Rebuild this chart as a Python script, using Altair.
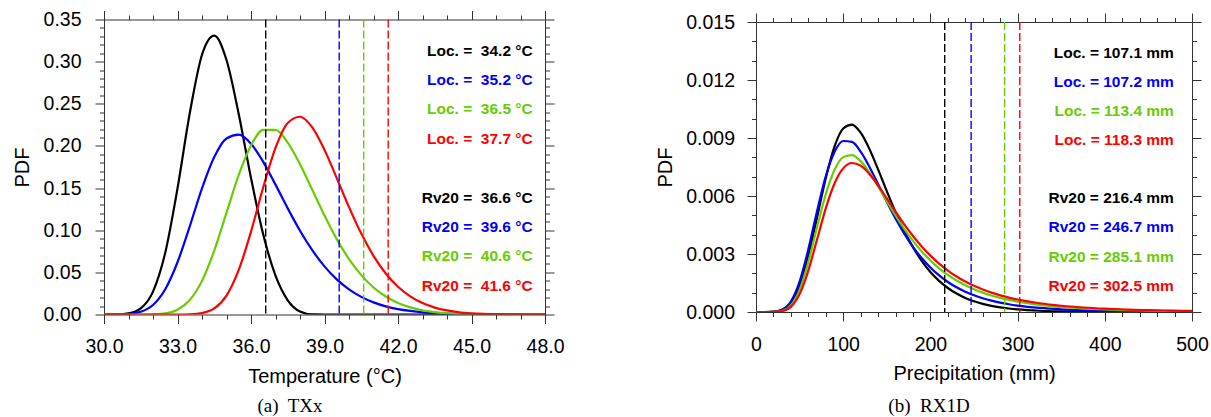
import altair as alt
import pandas as pd

# ------------------------------------------------------------------ data
series_names = ["black", "blue", "green", "red"]
series_colors = ["#000000", "#0000FF", "#66CD00", "#FF0000"]

# (a) TXx
temp_x = [30.0, 30.5, 31.0, 31.5, 32.0, 32.5, 33.0, 33.5, 34.0, 34.5, 35.0, 35.5,
          36.0, 36.5, 37.0, 37.5, 38.0, 38.5, 39.0, 39.5, 40.0, 40.5, 41.0, 41.5,
          42.0, 42.5, 43.0, 43.5, 44.0, 44.5, 45.0, 45.5, 46.0, 46.5, 47.0, 47.5, 48.0]
txx_black = [0.0, 0.0002, 0.0014, 0.0073, 0.0272, 0.0734, 0.1496, 0.2387, 0.3082, 0.3309,
             0.3019, 0.2376, 0.1620, 0.0949, 0.0461, 0.0169, 0.0036, 0.0001, 0.0, 0.0,
             0.0, 0.0, 0.0, 0.0, 0.0, 0.0, 0.0, 0.0, 0.0, 0.0, 0.0, 0.0, 0.0, 0.0, 0.0, 0.0, 0.0]
txx_blue = [0.0, 0.0001, 0.0006, 0.0032, 0.0113, 0.0300, 0.0620, 0.1046, 0.1496, 0.1868,
            0.2088, 0.2133, 0.2025, 0.1811, 0.1541, 0.1259, 0.0994, 0.0763, 0.0571, 0.0417,
            0.0298, 0.0209, 0.0144, 0.0097, 0.0064, 0.0042, 0.0026, 0.0016, 0.0010, 0.0006,
            0.0003, 0.0002, 0.0001, 0.0, 0.0, 0.0, 0.0]
txx_green = [0.0, 0.0, 0.0, 0.0, 0.0003, 0.0014, 0.0057, 0.0171, 0.0399, 0.0758,
             0.1207, 0.1656, 0.2006, 0.2190, 0.2191, 0.2039, 0.1783, 0.1480, 0.1174, 0.0894,
             0.0657, 0.0467, 0.0320, 0.0213, 0.0136, 0.0084, 0.0049, 0.0028, 0.0014, 0.0007,
             0.0003, 0.0001, 0.0, 0.0, 0.0, 0.0, 0.0]
txx_red = [0.0, 0.0, 0.0, 0.0, 0.0, 0.0, 0.0, 0.0003, 0.0017, 0.0072,
           0.0225, 0.0529, 0.0984, 0.1510, 0.1977, 0.2272, 0.2346, 0.2219, 0.1953, 0.1618,
           0.1274, 0.0960, 0.0696, 0.0487, 0.0329, 0.0215, 0.0135, 0.0082, 0.0048, 0.0026,
           0.0014, 0.0007, 0.0003, 0.0001, 0.0, 0.0, 0.0]
txx_loc = [34.2, 35.2, 36.5, 37.7]
txx_rv20 = [36.6, 39.6, 40.6, 41.6]
txx_xticks = [30, 31, 32, 33, 34, 35, 36, 37, 38, 39, 40, 41, 42, 43, 44, 45, 46, 47, 48]
txx_yticks = [0.00, 0.01, 0.02, 0.03, 0.04, 0.05, 0.06, 0.07, 0.08, 0.09, 0.10, 0.11,
              0.12, 0.13, 0.14, 0.15, 0.16, 0.17, 0.18, 0.19, 0.20, 0.21, 0.22, 0.23,
              0.24, 0.25, 0.26, 0.27, 0.28, 0.29, 0.30, 0.31, 0.32, 0.33, 0.34, 0.35]

# (b) RX1D
precip_x = [0, 10, 20, 30, 40, 50, 60, 70, 80, 90, 100, 110, 120, 130, 140, 150, 160,
            170, 180, 190, 200, 210, 220, 230, 240, 250, 260, 270, 280, 290, 300,
            325, 350, 375, 400, 425, 450, 475, 500]
rx1d_black = [0.0, 0.0, 0.000019, 0.000120, 0.000488, 0.001371, 0.002895, 0.004886,
              0.006922, 0.008551, 0.009492, 0.009694, 0.009276, 0.008437, 0.007375,
              0.006250, 0.005169, 0.004195, 0.003353, 0.002649, 0.002072, 0.001609,
              0.001242, 0.000953, 0.000729, 0.000555, 0.000421, 0.000319, 0.000241,
              0.000181, 0.000136, 0.000066, 0.000032, 0.000015, 0.000007, 0.000003,
              0.000001, 0.000001, 0.0]
rx1d_blue = [0.0, 0.0, 0.000013, 0.000118, 0.000544, 0.001572, 0.003239, 0.005215,
             0.007018, 0.008273, 0.008845, 0.008797, 0.008295, 0.007518, 0.006617,
             0.005700, 0.004835, 0.004053, 0.003372, 0.002790, 0.002299, 0.001890,
             0.001553, 0.001276, 0.001048, 0.000862, 0.000710, 0.000585, 0.000484,
             0.000400, 0.000332, 0.000210, 0.000134, 0.000087, 0.000057, 0.000038,
             0.000026, 0.000017, 0.000012]
rx1d_green = [0.0, 0.0, 0.000004, 0.000055, 0.000339, 0.001148, 0.002584, 0.004385,
              0.006093, 0.007349, 0.008011, 0.008117, 0.007803, 0.007220, 0.006499,
              0.005735, 0.004990, 0.004298, 0.003678, 0.003133, 0.002662, 0.002258,
              0.001916, 0.001626, 0.001381, 0.001175, 0.001001, 0.000855, 0.000731,
              0.000627, 0.000539, 0.000373, 0.000261, 0.000186, 0.000134, 0.000098,
              0.000073, 0.000054, 0.000041]
rx1d_red = [0.0, 0.0, 0.000003, 0.000043, 0.000266, 0.000924, 0.002144, 0.003748,
            0.005359, 0.006645, 0.007429, 0.007707, 0.007569, 0.007143, 0.006547,
            0.005874, 0.005190, 0.004536, 0.003933, 0.003392, 0.002915, 0.002501,
            0.002144, 0.001837, 0.001575, 0.001352, 0.001162, 0.001000, 0.000862,
            0.000745, 0.000645, 0.000454, 0.000324, 0.000234, 0.000171, 0.000127,
            0.000096, 0.000072, 0.000055]
rx1d_loc = [107.1, 107.2, 113.4, 118.3]
rx1d_rv20 = [216.4, 246.7, 285.1, 302.5]
rx1d_xticks = [0, 20, 40, 60, 80, 100, 120, 140, 160, 180, 200, 220, 240, 260, 280, 300,
               320, 340, 360, 380, 400, 420, 440, 460, 480, 500]
rx1d_yticks = [0.000, 0.001, 0.002, 0.003, 0.004, 0.005, 0.006, 0.007, 0.008,
               0.009, 0.010, 0.011, 0.012, 0.013, 0.014, 0.015]

# ------------------------------------------------------------------ style
FONT = "Liberation Sans"
SERIF = "Liberation Serif"
FRAME = "#333333"
NBSP = "\u00a0"
LABEL_SIZE = 19.5
TITLE_SIZE = 20
NOTE_SIZE = 15.5


def major_test(step):
    return f"abs(datum.value/{step} - round(datum.value/{step})) < 1e-6"


def tick_size(step):
    return {"condition": {"test": major_test(step), "value": 9}, "value": 4.5}


def panel(xs, curves, rv, labels, xdom, ydom, xticks, xstep, yticks, ystep,
          xfmt, yfmt, xtitle, w, h, xlab_pad, ylab_pad, xtitle_y, ytitle_x,
          text_x, text_y0, text_dy, caption, cap_x, cap_y):
    xscale = alt.Scale(domain=xdom, nice=False, zero=False)
    yscale = alt.Scale(domain=ydom, nice=False, zero=False)

    common = dict(domainColor=FRAME, domainWidth=1, tickColor=FRAME, tickWidth=1,
                  grid=False, labelFlush=False, labelOverlap=False)
    ax_bottom = alt.Axis(orient="bottom", values=xticks, tickSize=tick_size(xstep),
                         labelExpr=f"{major_test(xstep)} ? format(datum.value, '{xfmt}') : ''",
                         labelFont=FONT, labelFontSize=LABEL_SIZE, labelColor="black",
                         labelPadding=xlab_pad, title=xtitle, titleFont=FONT,
                         titleFontSize=TITLE_SIZE, titleFontWeight="normal",
                         titleColor="black", titleY=xtitle_y, titleBaseline="middle",
                         **common)
    ax_left = alt.Axis(orient="left", values=yticks, tickSize=tick_size(ystep),
                       labelExpr=f"{major_test(ystep)} ? format(datum.value, '{yfmt}') : ''",
                       labelFont=FONT, labelFontSize=LABEL_SIZE, labelColor="black",
                       labelPadding=ylab_pad, title="PDF", titleFont=FONT,
                       titleFontSize=TITLE_SIZE, titleFontWeight="normal",
                       titleColor="black", titleX=ytitle_x, titleY=h / 2, titleAngle=270,
                       titleBaseline="middle", titleAlign="center", **common)
    ax_top = alt.Axis(orient="top", values=xticks, tickSize=tick_size(xstep),
                      labels=False, title=None, **common)
    ax_right = alt.Axis(orient="right", values=yticks, tickSize=tick_size(ystep),
                        labels=False, title=None, **common)

    layers = []
    for i, (vals, col) in enumerate(zip(curves, series_colors)):
        df = pd.DataFrame({"x": xs, "pdf": vals})
        if i == 0:
            xa, ya = ax_bottom, ax_left
        elif i == 1:
            xa, ya = ax_top, ax_right
        else:
            xa, ya = None, None
        layers.append(
            alt.Chart(df).mark_line(color=col, strokeWidth=2.2, interpolate="monotone",
                                    clip=True)
            .encode(x=alt.X("x:Q", scale=xscale, axis=xa),
                    y=alt.Y("pdf:Q", scale=yscale, axis=ya))
        )

    df_rv = pd.DataFrame({"rv": rv, "series": series_names})
    layers.append(
        alt.Chart(df_rv).mark_rule(strokeDash=[8, 3], strokeWidth=1.4)
        .encode(x=alt.X("rv:Q", scale=xscale, axis=None),
                color=alt.Color("series:N",
                                scale=alt.Scale(domain=series_names, range=series_colors),
                                legend=None))
    )

    rows = [0, 1, 2, 3, 5, 6, 7, 8]
    for r, (lab, col) in zip(rows, labels):
        layers.append(
            alt.Chart(pd.DataFrame({"t": [lab]}))
            .mark_text(align="right", baseline="middle", font=FONT, fontSize=NOTE_SIZE,
                       fontWeight="bold", color=col)
            .encode(x=alt.value(text_x), y=alt.value(text_y0 + r * text_dy), text="t:N")
        )

    layers.append(
        alt.Chart(pd.DataFrame({"t": [caption]}))
        .mark_text(align="center", baseline="middle", font=SERIF, fontSize=19,
                   color="black")
        .encode(x=alt.value(cap_x), y=alt.value(cap_y), text="t:N")
    )

    return (alt.layer(*layers)
            .resolve_axis(x="independent", y="independent")
            .properties(width=w, height=h))


txx_labels = ([(f"Loc. ={NBSP} {v:.1f} °C", c) for v, c in zip(txx_loc, series_colors)] +
              [(f"Rv20 ={NBSP} {v:.1f} °C", c) for v, c in zip(txx_rv20, series_colors)])
rx1d_labels = ([(f"Loc. = {v:.1f} mm", c) for v, c in zip(rx1d_loc, series_colors)] +
               [(f"Rv20 = {v:.1f} mm", c) for v, c in zip(rx1d_rv20, series_colors)])

left = panel(temp_x, [txx_black, txx_blue, txx_green, txx_red], txx_rv20, txx_labels,
             [30, 48], [0, 0.35], txx_xticks, 3, txx_yticks, 0.05, ".1f", ".2f",
             "Temperature (°C)", 441, 295, 14, 14, 62, -81.4,
             428.7, 31, 29.4, f"(a){NBSP} TXx", 186, 386)

right = panel(precip_x, [rx1d_black, rx1d_blue, rx1d_green, rx1d_red], rx1d_rv20,
              rx1d_labels, [0, 500], [0, 0.015], rx1d_xticks, 100, rx1d_yticks, 0.003,
              "d", ".3f", "Precipitation (mm)", 436, 290, 14, 12.5, 61.5, -90.9,
              417.9, 30.8, 29.1, f"(b){NBSP} RX1D", 173, 383.5)

chart = (alt.hconcat(left, right, spacing=211, bounds="flush", center=True)
         .properties(padding={"left": 12, "top": 9.5, "right": 0, "bottom": 0},
                     background="white")
         .configure_view(stroke=None))

chart.save("out.html", embed_options={"renderer": "svg", "actions": False})
